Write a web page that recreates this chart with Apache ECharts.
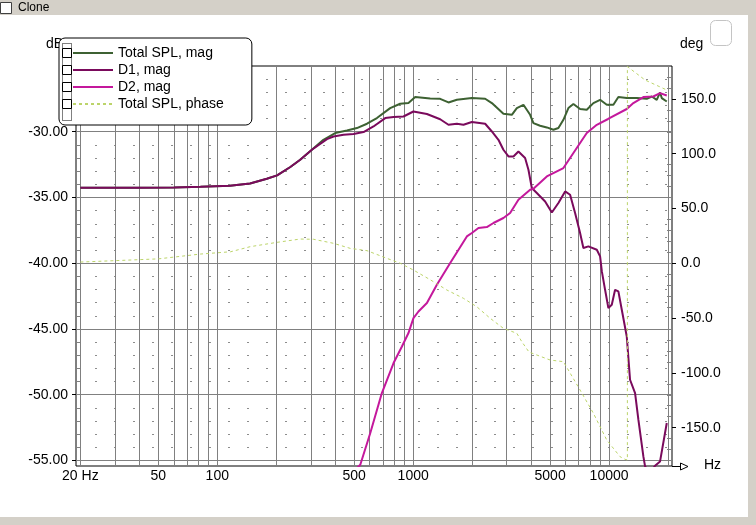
<!DOCTYPE html>
<html>
<head>
<meta charset="utf-8">
<script src="https://cdn.jsdelivr.net/npm/echarts@6/dist/echarts.min.js"></script>
<style>
html,body{margin:0;padding:0;background:#fff;}
#spl{width:756px;height:525px;}
</style>
</head>
<body>
<div id="spl"></div>
<script>
var mychart = echarts.init(document.getElementById('spl'));
var FONT = "'Liberation Sans', Arial, sans-serif";

// frequency gridlines and labels (Hz)
var freqGrid = [20,30,40,50,60,70,80,90,100,200,300,400,500,600,700,800,900,
    1000,2000,3000,4000,5000,6000,7000,8000,9000,10000,20000];
var freqLabels = [20,50,100,500,1000,5000,10000];
var dbTicks = [-55,-50,-45,-40,-35,-30];
var dbMinor = [-54,-53,-52,-51,-49,-48,-47,-46,-44,-43,-42,-41,-39,-38,-37,-36,
    -34,-33,-32,-31,-29,-28,-27,-26];
var degTicks = [-150,-100,-50,0,50,100,150];
var degMinor = [-170,-160,-140,-130,-120,-110,-90,-80,-70,-60,-40,-30,-20,-10,
    10,20,30,40,60,70,80,90,110,120,130,140,160,170];

// Total SPL, mag
var totalFreq = [20,40,60,82,116,147,179,202,236,265,304,348,400,459,516,581,653,763,858,946,
    1024,1221,1373,1514,1671,1993,2330,2521,2888,3188,3381,3654,3953,4109,4446,4810,5198,5512,
    5846,6199,6575,7112,7693,8316,8998,9733,10518,11154,12310,13848,15574,16517,17516,18205,18572,19701];
var totalMag = [-34.26,-34.26,-34.24,-34.18,-34.11,-33.93,-33.57,-33.32,-32.68,-32.13,-31.37,-30.61,
    -30.10,-29.90,-29.72,-29.39,-28.96,-28.20,-27.87,-27.82,-27.36,-27.47,-27.5,-27.77,-27.57,-27.44,
    -27.49,-27.82,-28.63,-28.71,-28.20,-27.95,-28.71,-29.34,-29.54,-29.67,-29.85,-29.72,-29.09,-28.20,
    -27.89,-28.27,-28.33,-27.82,-27.57,-27.95,-27.95,-27.36,-27.44,-27.44,-27.49,-27.32,-27.57,-27.01,
    -27.44,-27.70];

// D1, mag
var d1Freq = [20,40,60,82,116,147,179,202,236,265,304,363,392,441,496,558,627,720,794,892,1003,
    1175,1373,1514,1671,1806,1993,2330,2521,2724,2888,3064,3249,3445,3727,3876,4033,4277,4716,5102,
    5512,5965,6324,6706,7112,7393,7842,8655,8998,9180,9541,9918,10322,10730,11154,11611,12310,12794,
    13574,14111,14963,15267,16200,17168,18205,19701];
var d1Mag = [-34.26,-34.26,-34.24,-34.18,-34.11,-33.93,-33.57,-33.32,-32.68,-32.13,-31.37,
    -30.56,-30.36,-30.23,-30.17,-30.02,-29.60,-28.96,-28.88,-28.84,-28.46,
    -28.65,-29.05,-29.47,-29.39,-29.47,-29.26,-29.39,-29.98,-30.61,-31.37,
    -31.88,-31.88,-31.50,-32.00,-32.89,-34.28,-34.66,-35.30,-36.14,-35.42,
    -34.54,-34.79,-36.18,-37.70,-38.84,-38.72,-38.97,-39.48,-40.6,-42.02,
    -43.41,-43.16,-42.02,-42.14,-43.54,-45.57,-48.86,-49.87,-51.90,-54.69,
    -55.45,-55.9,-55.4,-55.07,-52.15];

// D2, mag
var d2Freq = [506,537,604,692,794,876,946,1003,1064,1175,1321,1545,1879,1993,2154,2377,2569,2888,
    3125,3445,3953,4109,4810,5846,6575,7693,8655,9883,12310,13305,14963,16827,18205,19701];
var d2Mag = [-55.7,-55.32,-52.91,-49.87,-47.59,-46.33,-45.31,-44.17,-43.67,-43.03,-41.63,-39.98,
    -37.96,-37.70,-37.32,-37.25,-36.94,-36.56,-36.18,-35.17,-34.41,-34.33,-33.40,-32.76,-31.62,
    -30.10,-29.47,-29.03,-28.27,-27.82,-27.36,-27.32,-27.06,-27.24];

// Total SPL, phase (deg)
var phFreq = [20,50,82,117,147,202,265,310,392,477,581,734,859,1003,1221,1486,1806,2113,2471,2888,
    3381,3586,3900,5000,5846,7112,8316,9733,11377,12064,12400,12400,15267,19701];
var phDeg = [1.1,4,8.4,10.5,15.1,19.1,22.1,21.9,18.2,13.6,11.5,4.5,0,-6.2,-15,-24.4,-32,-39.7,
    -50.2,-59.4,-63.9,-71.6,-81,-88.3,-89.8,-115.7,-136.9,-161.3,-176.5,-178.9,-179.5,179.5,167.2,158.1];

function pairs(xs, ys) {
    return xs.map(function (f, i) { return [f, ys[i]]; });
}

option = {
    backgroundColor: '#fff',
    animation: false,
    grid: {
        left: 76, top: 66, width: 596, height: 400,
        show: true, borderColor: '#000', borderWidth: 1
    },
    legend: {
        orient: 'vertical',
        left: 59, top: 38,
        padding: [6.5, 28, 12.5, 13],
        itemGap: 0,
        itemWidth: 40, itemHeight: 14,
        backgroundColor: '#fff',
        borderColor: '#000', borderWidth: 1, borderRadius: 6,
        z: 10,
        selectedMode: false,
        itemStyle: { opacity: 0 },
        textStyle: { fontSize: 14, color: '#000', fontFamily: FONT, lineHeight: 17, height: 17 },
        data: ['Total SPL, mag', 'D1, mag', 'D2, mag', 'Total SPL, phase']
    },
    xAxis: {
        type: 'log', logBase: 10, min: 19, max: 20950,
        axisLine: { show: false },
        axisTick: { show: false, customValues: freqGrid },
        axisLabel: {
            customValues: freqLabels, margin: 3,
            fontSize: 14, color: '#000', fontFamily: FONT,
            formatter: function (v) { return v === 20 ? '20 Hz' : String(v); }
        },
        splitLine: { show: true, lineStyle: { color: '#808080', width: 1 } }
    },
    yAxis: [
        {
            type: 'value', position: 'left', min: -55.42, max: -25,
            axisLine: { show: false },
            axisTick: { show: true, length: 4, customValues: dbTicks, lineStyle: { color: '#000' } },
            axisLabel: {
                customValues: dbTicks, margin: 8,
                fontSize: 14, color: '#000', fontFamily: FONT,
                formatter: function (v) { return v.toFixed(2); }
            },
            splitLine: { show: true, lineStyle: { color: '#808080', width: 1 } }
        },
        {
            type: 'value', position: 'right', min: -185, max: 180,
            axisLine: { show: false },
            axisTick: { show: true, length: 4, customValues: degTicks, lineStyle: { color: '#000' } },
            axisLabel: {
                customValues: degTicks, margin: 9,
                fontSize: 14, color: '#000', fontFamily: FONT,
                formatter: function (v) { return v.toFixed(1); }
            },
            splitLine: { show: false }
        },
        {
            type: 'value', position: 'left', min: -55.42, max: -25,
            axisLine: { show: false },
            axisLabel: { show: false },
            axisTick: { show: true, inside: true, length: 5, customValues: dbMinor, lineStyle: { color: '#808080' } },
            splitLine: { show: true, lineStyle: { color: '#8c8c8c', width: 1, type: [2, 17] } }
        },
        {
            type: 'value', position: 'right', min: -185, max: 180,
            axisLine: { show: false },
            axisLabel: { show: false },
            axisTick: { show: true, inside: true, length: 5, customValues: degMinor, lineStyle: { color: '#808080' } },
            splitLine: { show: false }
        }
    ],
    series: [
        {
            name: 'Total SPL, mag', type: 'line', yAxisIndex: 0,
            symbol: 'none', color: '#3d6132',
            lineStyle: { width: 2, color: '#3d6132' },
            data: pairs(totalFreq, totalMag)
        },
        {
            name: 'D1, mag', type: 'line', yAxisIndex: 0,
            symbol: 'none', color: '#7a0a5c',
            lineStyle: { width: 2, color: '#7a0a5c' },
            data: pairs(d1Freq, d1Mag)
        },
        {
            name: 'D2, mag', type: 'line', yAxisIndex: 0,
            symbol: 'none', color: '#c4189c',
            lineStyle: { width: 2, color: '#c4189c' },
            data: pairs(d2Freq, d2Mag)
        },
        {
            name: 'Total SPL, phase', type: 'line', yAxisIndex: 1,
            symbol: 'none', color: '#bcd46a',
            lineStyle: { width: 1, color: '#bcd46a', type: [3, 3] },
            data: pairs(phFreq, phDeg)
        }
    ],
    graphic: {
        elements: [
            // window chrome
            { type: 'rect', left: 0, top: 0, z: 50, shape: { width: 756, height: 15 }, style: { fill: '#d4d0c8' } },
            { type: 'rect', z: 51, shape: { x: 0.5, y: 2.5, width: 11, height: 11 }, style: { fill: '#fff', stroke: '#404040', lineWidth: 1 } },
            { type: 'text', z: 51, x: 18, y: 8, style: { text: 'Clone', fontSize: 12, fontFamily: FONT, fill: '#000', verticalAlign: 'middle' } },
            { type: 'rect', z: 50, shape: { x: 748, y: 15, width: 8, height: 510 }, style: { fill: '#d4d0c8' } },
            { type: 'rect', z: 50, shape: { x: 0, y: 517, width: 756, height: 8 }, style: { fill: '#d4d0c8' } },
            { type: 'rect', z: 50, shape: { x: 710.5, y: 20.5, width: 21, height: 25, r: 5 }, style: { fill: 'none', stroke: '#c4c4c4', lineWidth: 1 } },
            // axis units
            { type: 'text', z: 1, x: 46, y: 44, style: { text: 'dB', fontSize: 14, fontFamily: FONT, fill: '#000', verticalAlign: 'middle' } },
            { type: 'text', z: 1, x: 680, y: 44, style: { text: 'deg', fontSize: 14, fontFamily: FONT, fill: '#000', verticalAlign: 'middle' } },
            { type: 'text', z: 1, x: 704, y: 465, style: { text: 'Hz', fontSize: 14, fontFamily: FONT, fill: '#000', verticalAlign: 'middle' } },
            // axis arrow
            { type: 'polyline', z: 5, shape: { points: [[672, 466.5], [681, 466.5]] }, style: { stroke: '#000', lineWidth: 1, fill: 'none' } },
            { type: 'polygon', z: 5, shape: { points: [[680.5, 463], [688, 466.5], [680.5, 470]] }, style: { stroke: '#000', lineWidth: 1, fill: '#fff' } },
            // legend check boxes
            { type: 'rect', z: 20, shape: { x: 62.5, y: 43.5, width: 9, height: 77 }, style: { fill: 'none', stroke: '#000', lineWidth: 1, lineDash: [1, 1] } },
            { type: 'rect', z: 21, shape: { x: 62.5, y: 48.5, width: 9, height: 9 }, style: { fill: '#fff', stroke: '#000', lineWidth: 1 } },
            { type: 'rect', z: 21, shape: { x: 62.5, y: 65.5, width: 9, height: 9 }, style: { fill: '#fff', stroke: '#000', lineWidth: 1 } },
            { type: 'rect', z: 21, shape: { x: 62.5, y: 82.5, width: 9, height: 9 }, style: { fill: '#fff', stroke: '#000', lineWidth: 1 } },
            { type: 'rect', z: 21, shape: { x: 62.5, y: 99.5, width: 9, height: 9 }, style: { fill: '#fff', stroke: '#000', lineWidth: 1 } }
        ]
    }
};
mychart.setOption(option, true);
</script>
</body>
</html>
